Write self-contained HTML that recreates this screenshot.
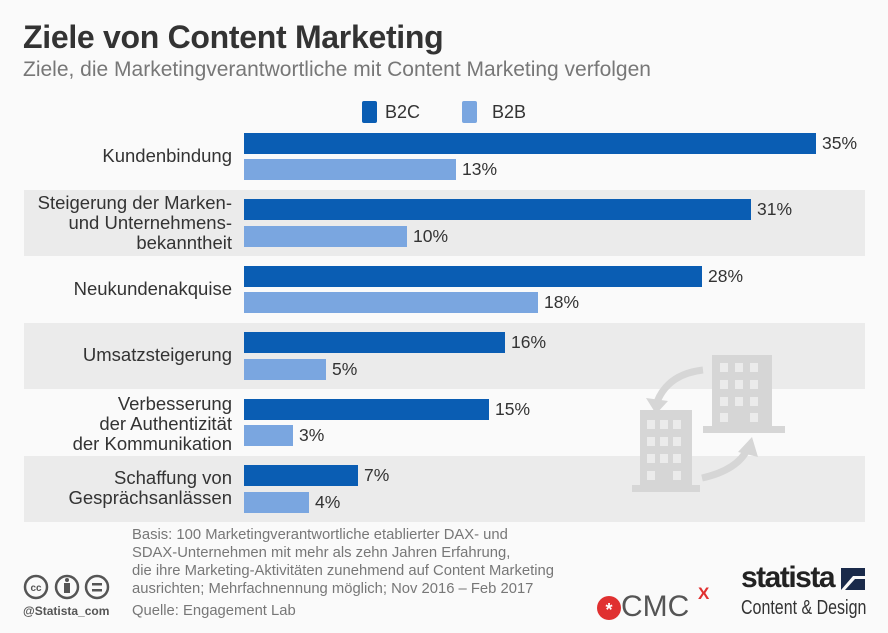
<!DOCTYPE html>
<html><head><meta charset="utf-8"><style>
body{margin:0;width:888px;height:633px;background:#fafafa;font-family:"Liberation Sans",sans-serif;color:#333;position:relative;overflow:hidden}
.a{position:absolute;white-space:nowrap}
.band{position:absolute;left:24px;width:841px;height:66px;background:#ebebeb}
.lab{position:absolute;right:656px;text-align:right;font-size:18.5px;line-height:20px;color:#333;white-space:nowrap}
.bar{position:absolute;left:244px;height:21px}
.d{background:#0a5db3}.l{background:#7aa6e0}
.v{position:absolute;font-size:17.5px;line-height:21px;color:#333}
.ft{font-size:14.8px;color:#777;line-height:18px}
</style></head><body>
<div class="a" style="left:23px;top:19px;font-size:32px;font-weight:bold;color:#333;letter-spacing:-0.3px">Ziele von Content Marketing</div>
<div class="a" style="left:23px;top:58px;font-size:21px;color:#777">Ziele, die Marketingverantwortliche mit Content Marketing verfolgen</div>
<div class="a" style="left:362px;top:101px;width:15px;height:22px;background:#0a5db3;border-radius:2px"></div>
<div class="a" style="left:385px;top:101px;font-size:18px;line-height:22px">B2C</div>
<div class="a" style="left:462px;top:101px;width:15px;height:22px;background:#7aa6e0;border-radius:2px"></div>
<div class="a" style="left:492px;top:101px;font-size:18px;line-height:22px">B2B</div>
<div class="band" style="top:190px"></div>
<div class="band" style="top:323px"></div>
<div class="band" style="top:456px"></div>
<svg class="a" style="left:0;top:0" width="888" height="633">
<g fill="#d6d6d6"><rect x="712" y="355" width="60" height="78"/><rect x="703" y="426" width="82" height="7"/>
<rect x="640" y="410" width="52" height="80"/><rect x="632" y="485" width="68" height="7"/></g>
<g fill="#ebebeb">
<rect x="720" y="363" width="8" height="9"/><rect x="735" y="363" width="8" height="9"/><rect x="750" y="363" width="8" height="9"/>
<rect x="720" y="380" width="8" height="9"/><rect x="735" y="380" width="8" height="9"/><rect x="750" y="380" width="8" height="9"/>
<rect x="720" y="397" width="8" height="9"/><rect x="735" y="397" width="8" height="9"/><rect x="750" y="397" width="8" height="9"/>
<rect x="720" y="413" width="8" height="9"/><rect x="750" y="413" width="8" height="9"/>
<rect x="647" y="420" width="8" height="9"/><rect x="660" y="420" width="8" height="9"/><rect x="673" y="420" width="8" height="9"/>
<rect x="647" y="437" width="8" height="9"/><rect x="660" y="437" width="8" height="9"/><rect x="673" y="437" width="8" height="9"/>
<rect x="647" y="454" width="8" height="9"/><rect x="660" y="454" width="8" height="9"/><rect x="673" y="454" width="8" height="9"/>
<rect x="647" y="471" width="8" height="9"/><rect x="673" y="471" width="8" height="9"/></g>
<path d="M703 370 Q668 374 657 402" stroke="#d6d6d6" stroke-width="7" fill="none"/><path d="M646 398 L656 414 L668 401Z" fill="#d6d6d6"/>
<path d="M702 478 Q738 470 748 448" stroke="#d6d6d6" stroke-width="7" fill="none"/><path d="M738 452 L752 437 L758 457Z" fill="#d6d6d6"/>
</svg>

<div class="lab" style="top:146px">Kundenbindung</div>
<div class="bar d" style="top:133px;width:572px"></div><div class="v" style="left:822px;top:133px">35%</div>
<div class="bar l" style="top:159px;width:212px"></div><div class="v" style="left:462px;top:159px">13%</div>

<div class="lab" style="top:193px">Steigerung der Marken-<br>und Unternehmens-<br>bekanntheit</div>
<div class="bar d" style="top:199px;width:507px"></div><div class="v" style="left:757px;top:199px">31%</div>
<div class="bar l" style="top:226px;width:163px"></div><div class="v" style="left:413px;top:226px">10%</div>

<div class="lab" style="top:279px">Neukundenakquise</div>
<div class="bar d" style="top:266px;width:458px"></div><div class="v" style="left:708px;top:266px">28%</div>
<div class="bar l" style="top:292px;width:294px"></div><div class="v" style="left:544px;top:292px">18%</div>

<div class="lab" style="top:345px">Umsatzsteigerung</div>
<div class="bar d" style="top:332px;width:261px"></div><div class="v" style="left:511px;top:332px">16%</div>
<div class="bar l" style="top:359px;width:82px"></div><div class="v" style="left:332px;top:359px">5%</div>

<div class="lab" style="top:394px">Verbesserung<br>der Authentizität<br>der Kommunikation</div>
<div class="bar d" style="top:399px;width:245px"></div><div class="v" style="left:495px;top:399px">15%</div>
<div class="bar l" style="top:425px;width:49px"></div><div class="v" style="left:299px;top:425px">3%</div>

<div class="lab" style="top:468px">Schaffung von<br>Gesprächsanlässen</div>
<div class="bar d" style="top:465px;width:114px"></div><div class="v" style="left:364px;top:465px">7%</div>
<div class="bar l" style="top:492px;width:65px"></div><div class="v" style="left:315px;top:492px">4%</div>

<div class="a ft" style="left:132px;top:526px">Basis: 100 Marketingverantwortliche etablierter DAX- und<br>SDAX-Unternehmen mit mehr als zehn Jahren Erfahrung,<br>die ihre Marketing-Aktivitäten zunehmend auf Content Marketing<br>ausrichten; Mehrfachnennung möglich; Nov 2016 – Feb 2017</div>
<div class="a ft" style="left:132px;top:602px">Quelle: Engagement Lab</div>

<svg class="a" style="left:23px;top:574px" width="88" height="28">
<g fill="none" stroke="#555" stroke-width="2.5"><circle cx="13" cy="13" r="11"/><circle cx="44" cy="13" r="11"/><circle cx="74" cy="13" r="11"/></g>
<text x="13" y="17" font-size="10" text-anchor="middle" fill="#555" font-family="Liberation Sans" font-weight="bold">cc</text>
<rect x="41" y="9" width="6" height="10" fill="#555"/><circle cx="44" cy="6" r="2" fill="#555"/>
<rect x="69" y="9" width="10" height="2.5" fill="#555"/><rect x="69" y="15" width="10" height="2.5" fill="#555"/>
</svg>
<div class="a" style="left:23px;top:604px;font-size:12px;color:#555;font-weight:bold">@Statista_com</div>

<svg class="a" style="left:596px;top:595px" width="26" height="26"><circle cx="13" cy="13" r="12" fill="#e03030"/><text x="13" y="21" font-size="18" fill="#fff" text-anchor="middle" font-family="Liberation Sans" font-weight="bold">*</text></svg>
<div class="a" style="left:621px;top:590px;font-size:30px;color:#555">CMC</div>
<div class="a" style="left:698px;top:584px;font-size:17px;color:#e03030;font-weight:bold">X</div>

<div class="a" style="left:741px;top:561px;font-size:30px;font-weight:bold;color:#222;letter-spacing:-1.5px">statista</div>
<svg class="a" style="left:841px;top:568px" width="24" height="22"><rect width="24" height="22" fill="#1a2a4a"/><path d="M0 22 L12 8 L24 8 L24 11 L14 11 L4 22Z" fill="#fafafa"/></svg>
<div class="a" style="left:741px;top:597px;font-size:20px;color:#333;transform:scaleX(0.8);transform-origin:0 0">Content &amp; Design</div>
</body></html>
